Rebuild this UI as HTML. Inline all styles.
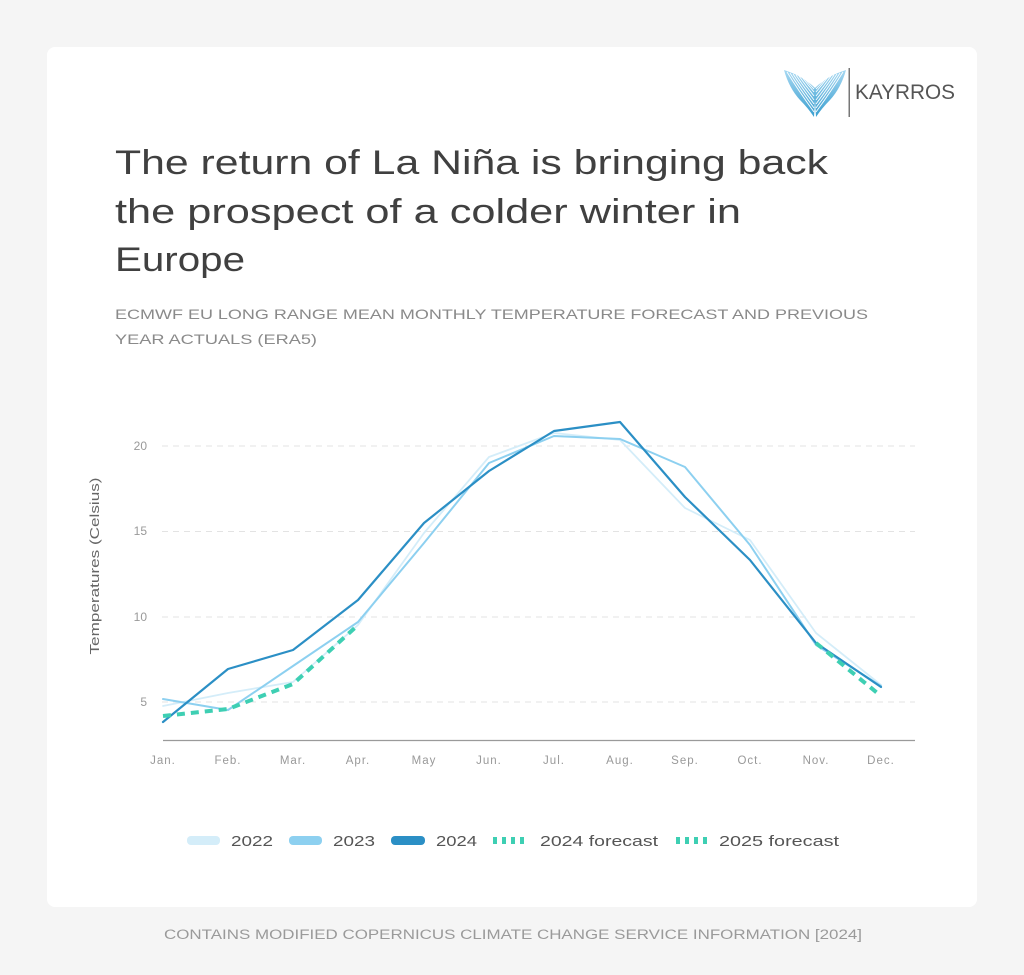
<!DOCTYPE html>
<html><head><meta charset="utf-8"><style>
html,body{margin:0;padding:0;background:#f5f5f5;}
svg{display:block;}
text{font-family:"Liberation Sans",Arial,sans-serif;}
</style></head><body>
<svg width="1024" height="975" viewBox="0 0 1024 975" xmlns="http://www.w3.org/2000/svg">
<defs>
<linearGradient id="wg" x1="0" y1="0" x2="0" y2="1">
<stop offset="0" stop-color="#a6d8f2"/><stop offset="1" stop-color="#3a9fd0"/>
</linearGradient>
</defs>
<rect x="0" y="0" width="1024" height="975" fill="#f5f5f5"/>
<rect x="47" y="47" width="930" height="860" rx="8" fill="#ffffff"/>

<!-- logo -->
<path d="M784 70 Q803 76 815 88 L815 100 L814 117 Q808 108 800 100 Q789 88 784 70 Z" fill="url(#wg)"/>
<path d="M846 70 Q827 76 815 88 L815 100 L816 117 Q822 108 830 100 Q841 88 846 70 Z" fill="url(#wg)"/>
<g fill="none" stroke="#ffffff" stroke-width="0.9">
<path d="M787 72 Q798 90 814 112"/>
<path d="M790 73 Q800 89 814 108"/>
<path d="M793 74 Q802 88 814 104"/>
<path d="M796 75 Q804 87 814 100"/>
<path d="M799 76 Q806 86 814 96"/>
<path d="M802 77 Q808 85 814 92"/>
<path d="M805 79 Q810 85 814 89"/>
<path d="M843 72 Q832 90 816 112"/>
<path d="M840 73 Q830 89 816 108"/>
<path d="M837 74 Q828 88 816 104"/>
<path d="M834 75 Q826 87 816 100"/>
<path d="M831 76 Q824 86 816 96"/>
<path d="M828 77 Q822 85 816 92"/>
<path d="M825 79 Q820 85 816 89"/>
</g>
<rect x="848.5" y="68" width="1.5" height="49" fill="#777"/>
<text x="855" y="99" font-size="21" fill="#555" textLength="100" lengthAdjust="spacingAndGlyphs" style="font-weight:300">KAYRROS</text>

<!-- title -->
<g fill="#404040" font-size="34">
<text x="115" y="174" textLength="713" lengthAdjust="spacingAndGlyphs">The return of La Niña is bringing back</text>
<text x="115" y="223" textLength="626" lengthAdjust="spacingAndGlyphs">the prospect of a colder winter in</text>
<text x="115" y="271" textLength="130" lengthAdjust="spacingAndGlyphs">Europe</text>
</g>
<g fill="#8a8a8a" font-size="14">
<text x="115" y="319" textLength="753" lengthAdjust="spacingAndGlyphs">ECMWF EU LONG RANGE MEAN MONTHLY TEMPERATURE FORECAST AND PREVIOUS</text>
<text x="115" y="344" textLength="202" lengthAdjust="spacingAndGlyphs">YEAR ACTUALS (ERA5)</text>
</g>

<!-- grid -->
<g stroke="#e3e3e3" stroke-width="1" stroke-dasharray="6 5">
<line x1="162" y1="446" x2="915" y2="446"/>
<line x1="162" y1="531.5" x2="915" y2="531.5"/>
<line x1="162" y1="617" x2="915" y2="617"/>
<line x1="162" y1="702" x2="915" y2="702"/>
</g>
<line x1="163" y1="740.5" x2="915" y2="740.5" stroke="#9a9a9a" stroke-width="1.2"/>

<g fill="#999" font-size="12" text-anchor="end">
<text x="147" y="450">20</text>
<text x="147" y="535">15</text>
<text x="147" y="621">10</text>
<text x="147" y="706">5</text>
</g>
<text transform="translate(99,566) rotate(-90)" text-anchor="middle" font-size="12.5" fill="#666" textLength="177" lengthAdjust="spacingAndGlyphs">Temperatures (Celsius)</text>

<g fill="#999" font-size="11.5" text-anchor="middle" letter-spacing="1">
<text x="163" y="764">Jan.</text>
<text x="228" y="764">Feb.</text>
<text x="293" y="764">Mar.</text>
<text x="358" y="764">Apr.</text>
<text x="424" y="764">May</text>
<text x="489" y="764">Jun.</text>
<text x="554" y="764">Jul.</text>
<text x="620" y="764">Aug.</text>
<text x="685" y="764">Sep.</text>
<text x="750" y="764">Oct.</text>
<text x="816" y="764">Nov.</text>
<text x="881" y="764">Dec.</text>
</g>

<!-- series -->
<g fill="none" stroke-linejoin="round" stroke-linecap="round">
<polyline stroke="#d4edf9" stroke-width="1.8" points="163,706 228,693 293,682 358,625 424,533 489,457 554,433 620,440 685,508 750,540 816,633 881,685"/>
<polyline stroke="#8dd0f0" stroke-width="2" points="163,699 228,710 293,666 358,622 424,543 489,463 554,436 620,439 685,467 750,545 816,645 881,686"/>
<polyline stroke="#2b8fc5" stroke-width="2.2" points="163,722 228,669 293,650 358,600 424,523 489,471 554,431 620,422 685,497 750,560 816,643 881,687"/>
<polyline stroke="#3ecfb3" stroke-width="4" stroke-dasharray="8 6" stroke-linecap="butt" points="163,716 228,709 293,684 358,625"/>
<polyline stroke="#3ecfb3" stroke-width="4" stroke-dasharray="8 6" stroke-linecap="butt" points="816,643 881,696"/>
</g>

<!-- legend -->
<rect x="187" y="836" width="33" height="9" rx="4" fill="#d4edf9"/>
<rect x="289" y="836" width="33" height="9" rx="4" fill="#8dd0f0"/>
<rect x="391" y="836" width="34" height="9" rx="4" fill="#2b8fc5"/>
<line x1="493" y1="840.5" x2="528" y2="840.5" stroke="#3ecfb3" stroke-width="7" stroke-dasharray="4 5"/>
<line x1="676" y1="840.5" x2="711" y2="840.5" stroke="#3ecfb3" stroke-width="7" stroke-dasharray="4 5"/>
<g fill="#555" font-size="15">
<text x="231" y="846" textLength="42" lengthAdjust="spacingAndGlyphs">2022</text>
<text x="333" y="846" textLength="42" lengthAdjust="spacingAndGlyphs">2023</text>
<text x="436" y="846" textLength="41" lengthAdjust="spacingAndGlyphs">2024</text>
<text x="540" y="846" textLength="118" lengthAdjust="spacingAndGlyphs">2024 forecast</text>
<text x="719" y="846" textLength="120" lengthAdjust="spacingAndGlyphs">2025 forecast</text>
</g>

<!-- footer -->
<text x="164" y="939" font-size="13.5" fill="#9a9a9a" textLength="698" lengthAdjust="spacingAndGlyphs">CONTAINS MODIFIED COPERNICUS CLIMATE CHANGE SERVICE INFORMATION [2024]</text>
</svg>
</body></html>
